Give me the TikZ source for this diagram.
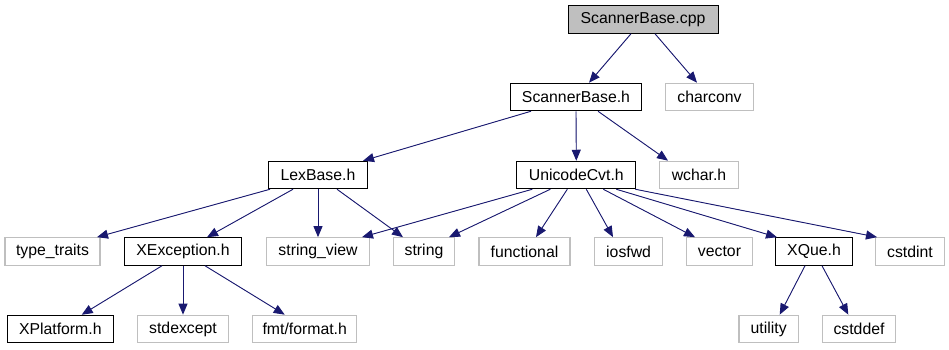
\documentclass[tikz,border=0pt]{standalone}
\usepackage{fontspec}
\setmainfont{Liberation Sans}
\usetikzlibrary{arrows.meta}

\definecolor{edgeblue}{HTML}{191970}
\definecolor{extgray}{HTML}{BFBFBF}

\tikzset{
  box/.style={font=\fontsize{15.8}{18}\selectfont, inner sep=0pt,
              minimum height=27.5pt, anchor=center},
  mainbox/.style={box, draw=black, line width=1pt, fill=extgray},
  docbox/.style={box, draw=black, line width=1pt, fill=white},
  sysbox/.style={box, draw=extgray, line width=1.2pt, fill=white},
  dep/.style={draw=edgeblue, line width=0.9pt,
              -{Triangle[length=11pt,width=9pt]}, fill=edgeblue},
}

\begin{document}
\begin{tikzpicture}[x=1pt,y=-1pt]
  \fill[white] (0,0) rectangle (949,349);
  \useasboundingbox (0,0) rectangle (949,349);

  % row 1
  \node[mainbox, minimum width=150pt] (cpp) at (643,19.5) {ScannerBase.cpp};
  % row 2
  \node[docbox, minimum width=131pt] (sbh) at (576,97) {ScannerBase.h};
  \node[sysbox, minimum width=87.6pt] (charconv) at (709.5,97) {charconv};
  % row 3
  \node[docbox, minimum width=99pt] (lex) at (318,175) {LexBase.h};
  \node[docbox, minimum width=119pt] (uni) at (576.3,175) {UnicodeCvt.h};
  \node[sysbox, minimum width=79pt] (wchar) at (699,175) {wchar.h};
  % row 4
  \node[sysbox, minimum width=95pt] (traits) at (52.5,251.5) {type\_traits};
  \node[docbox, minimum width=117.4pt] (xexc) at (183,251.5) {XException.h};
  \node[sysbox, minimum width=103pt] (sview) at (318,251.5) {string\_view};
  \node[sysbox, minimum width=61pt] (string) at (424,251.5) {string};
  \node[sysbox, minimum width=91pt] (functional) at (524.5,251.5) {functional};
  \node[sysbox, minimum width=68pt] (iosfwd) at (628.6,251.5) {iosfwd};
  \node[sysbox, minimum width=65.6pt] (vector) at (719.5,251.5) {vector};
  \node[docbox, minimum width=76.6pt] (xque) at (814,251.5) {XQue.h};
  \node[sysbox, minimum width=68.3pt] (cstdint) at (910,251.5) {cstdint};
  % row 5
  \node[docbox, minimum width=106pt] (xplat) at (60.3,329) {XPlatform.h};
  \node[sysbox, minimum width=90.6pt] (stdexcept) at (183,329) {stdexcept};
  \node[sysbox, minimum width=104pt] (fmt) at (304.7,329) {fmt/format.h};
  \node[sysbox, minimum width=59.3pt] (utility) at (768.7,329) {utility};
  \node[sysbox, minimum width=73.7pt] (cstddef) at (859,329) {cstddef};

  % include edges
  \draw[dep] ([xshift=-12pt]cpp.south) -- ([xshift=13pt]sbh.north);
  \draw[dep] ([xshift=12pt]cpp.south) -- ([xshift=-12.5pt]charconv.north);

  \draw[dep] ([xshift=-45pt]sbh.south) -- ([xshift=45pt]lex.north);
  \draw[dep] (sbh.south) -- (uni.north);
  \draw[dep] ([xshift=22pt]sbh.south) -- ([xshift=-31pt]wchar.north);

  \draw[dep] ([xshift=-48pt]lex.south) -- ([xshift=44.5pt]traits.north);
  \draw[dep] ([xshift=-25pt]lex.south) -- ([xshift=24pt]xexc.north);
  \draw[dep] (lex.south) -- (sview.north);
  \draw[dep] ([xshift=19pt]lex.south) -- ([xshift=-21pt]string.north);

  \draw[dep] ([xshift=-44pt]uni.south) -- ([xshift=44pt]sview.north);
  \draw[dep] ([xshift=-26pt]uni.south) -- ([xshift=25pt]string.north);
  \draw[dep] ([xshift=-9pt]uni.south) -- ([xshift=11.5pt]functional.north);
  \draw[dep] ([xshift=10pt]uni.south) -- ([xshift=-15.6pt]iosfwd.north);
  \draw[dep] ([xshift=27pt]uni.south) -- ([xshift=-24.5pt]vector.north);
  \draw[dep] ([xshift=40pt]uni.south) -- ([xshift=-37pt]xque.north);
  \draw[dep] ([xshift=59pt]uni.south) -- ([xshift=-33pt]cstdint.north);

  \draw[dep] ([xshift=-21pt]xexc.south) -- ([xshift=21.4pt]xplat.north);
  \draw[dep] (xexc.south) -- (stdexcept.north);
  \draw[dep] ([xshift=22pt]xexc.south) -- ([xshift=-20pt]fmt.north);

  \draw[dep] ([xshift=-9pt]xque.south) -- ([xshift=11pt]utility.north);
  \draw[dep] ([xshift=8pt]xque.south) -- ([xshift=-10.7pt]cstddef.north);
\end{tikzpicture}
\end{document}
